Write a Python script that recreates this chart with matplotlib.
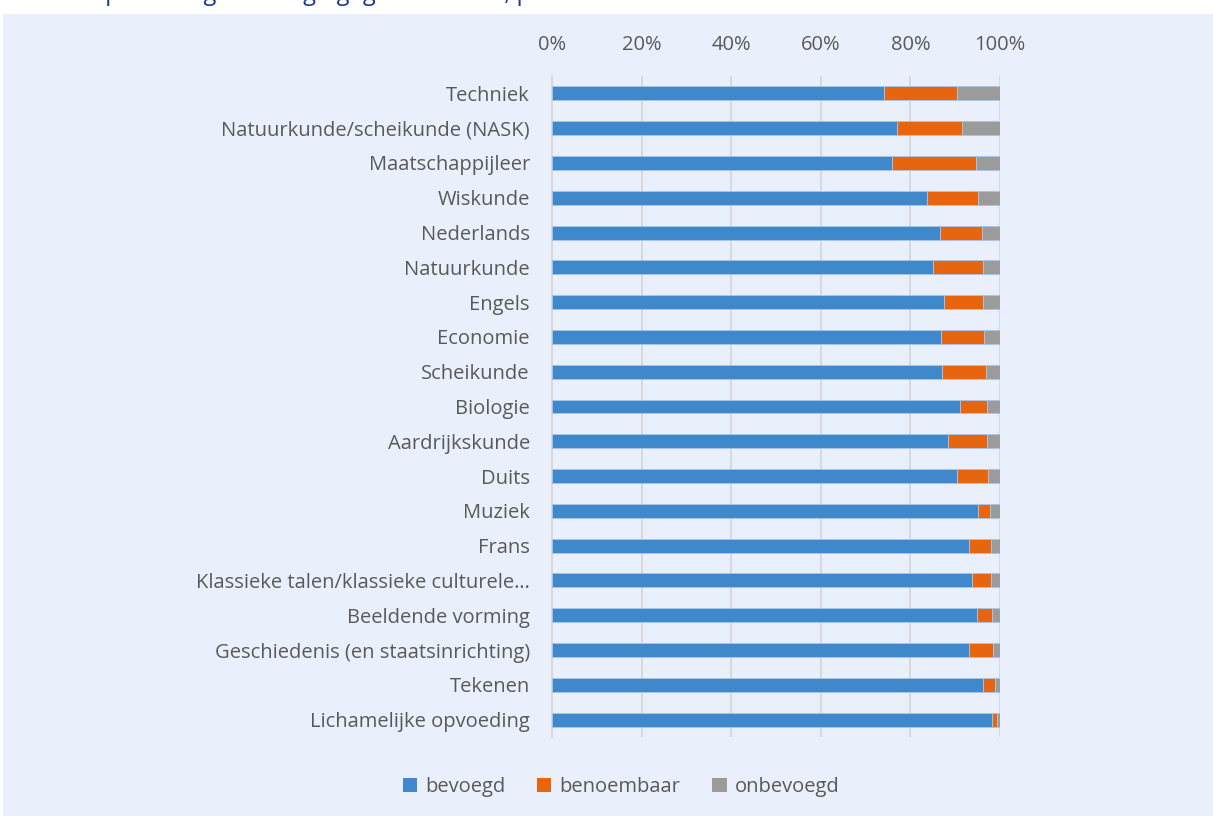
import matplotlib
matplotlib.use("Agg")
import matplotlib.pyplot as plt
from matplotlib.patches import Rectangle
from matplotlib.ticker import PercentFormatter

plt.rcParams['font.family'] = ['Open Sans', 'DejaVu Sans']

# vakken, van boven naar beneden
vakken = [
    "Techniek", "Natuurkunde/scheikunde (NASK)", "Maatschappijleer", "Wiskunde",
    "Nederlands", "Natuurkunde", "Engels", "Economie", "Scheikunde", "Biologie",
    "Aardrijkskunde", "Duits", "Muziek", "Frans",
    "Klassieke talen/klassieke culturele…", "Beeldende vorming",
    "Geschiedenis (en staatsinrichting)", "Tekenen", "Lichamelijke opvoeding",
]
bevoegd = [74.2, 76.9, 75.8, 83.8, 86.6, 85.0, 87.4, 86.9, 87.1, 91.1,
           88.5, 90.5, 95.2, 93.1, 93.8, 94.9, 93.1, 96.3, 98.2]
benoembaar = [16.3, 14.7, 18.9, 11.4, 9.4, 11.1, 8.7, 9.6, 9.8, 5.9,
              8.7, 6.9, 2.6, 5.0, 4.3, 3.3, 5.4, 2.5, 1.2]
onbevoegd = [100 - a - b for a, b in zip(bevoegd, benoembaar)]

c_blauw = '#4088CC'
c_oranje = '#E8650F'
c_grijs = '#9B9B9B'
tekst = '#595959'

fig = plt.figure(figsize=(12.13, 8.16), dpi=100)
fig.patches.append(Rectangle((3 / 1213, 0), 1, 802 / 816, transform=fig.transFigure,
                             facecolor='#E9F0FC', edgecolor='none', zorder=-10))
# titel valt in het origineel grotendeels buiten beeld
fig.text(60 / 1213, 1.0, "Het percentage bevoegd gegeven lessen, per vak",
         color='#1F3A8A', fontsize=17, va='baseline', ha='left')

ax = fig.add_axes([552 / 1213, 79 / 816, 448 / 1213, 661 / 816])
ax.set_facecolor('none')

y = range(len(vakken))
ax.barh(y, bevoegd, height=0.4, color=c_blauw, label='bevoegd',
        edgecolor='#A8C6EA', linewidth=0.6, zorder=3)
ax.barh(y, benoembaar, left=bevoegd, height=0.4, color=c_oranje, label='benoembaar',
        edgecolor='#A8C6EA', linewidth=0.6, zorder=3)
links = [a + b for a, b in zip(bevoegd, benoembaar)]
ax.barh(y, onbevoegd, left=links, height=0.4, color=c_grijs, label='onbevoegd',
        edgecolor='#A8C6EA', linewidth=0.6, zorder=3)

ax.set_ylim(len(vakken) - 0.5, -0.5)
ax.set_xlim(0, 100)
ax.set_yticks(list(y))
ax.set_yticklabels(vakken)
ax.set_xticks([0, 20, 40, 60, 80, 100])
ax.xaxis.set_major_formatter(PercentFormatter(decimals=0))
ax.xaxis.tick_top()
ax.tick_params(axis='x', length=0, pad=15, labelsize=14.5, labelcolor=tekst)
ax.tick_params(axis='y', length=0, pad=16, labelsize=14.5, labelcolor=tekst)
ax.grid(axis='x', color='#D9D9D9', linewidth=1.5, zorder=0)
for s in ['top', 'right', 'bottom']:
    ax.spines[s].set_visible(False)
ax.spines['left'].set_color('#D9D9D9')
ax.spines['left'].set_linewidth(1.5)

leg = fig.legend(loc='center', bbox_to_anchor=(621 / 1213, 1 - 787 / 816), ncol=3,
                 frameon=False, fontsize=14.5, handlelength=0.7, handleheight=0.7,
                 handletextpad=0.4, columnspacing=1.6)
for t in leg.get_texts():
    t.set_color(tekst)
for h in leg.legend_handles:
    h.set_edgecolor('none')

fig.savefig('out.png', dpi=100)
